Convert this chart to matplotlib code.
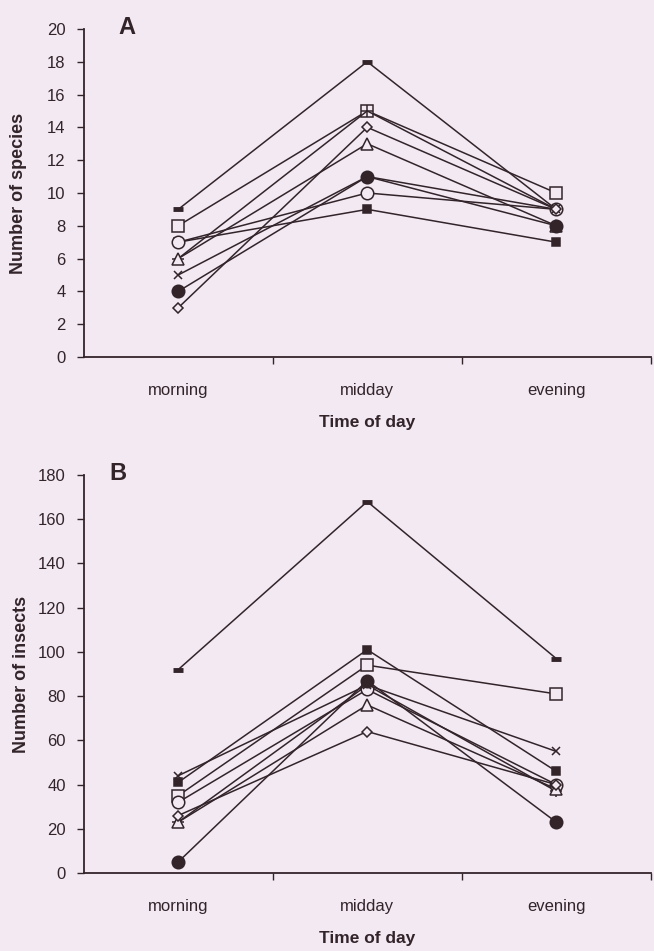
import numpy as np
import matplotlib
matplotlib.use("Agg")
import matplotlib.pyplot as plt

plt.rcParams['font.family'] = ['Liberation Sans', 'DejaVu Sans']

# categories
times = ['morning', 'midday', 'evening']

# panel A - number of species
dash_a = [9, 18, 9]
open_sq_a = [8, 15, 10]
plus_a = [6, 15, 9]
filled_sq_a = [7, 9, 7]
open_circ_a = [7, 10, 9]
tri_a = [6, 13, 8]
cross_a = [5, 11, 9]
filled_circ_a = [4, 11, 8]
diamond_a = [3, 14, 9]

# panel B - number of insects
dash_b = [92, 168, 97]
open_sq_b = [35, 94, 81]
plus_b = [23, 85, 37]
filled_sq_b = [41, 101, 46]
open_circ_b = [32, 83, 40]
tri_b = [23, 76, 38]
cross_b = [44, 85, 55]
filled_circ_b = [5, 87, 23]
diamond_b = [26, 64, 40]

bg = '#f2e9f2'
ink = '#33242a'

# marker styles (marker, size, filled)
styles = [
    ('_', 7.5, True),
    ('s', 8, False),
    ('+', 8, True),
    ('s', 6, True),
    ('o', 9, False),
    ('^', 8.5, False),
    ('x', 5.8, True),
    ('o', 9, True),
    ('D', 5.5, False),
]


def draw_panel(ax, series, ymax, ystep, ylabel, label_x):
    x = np.arange(len(times))
    for vals, (m, ms, filled) in zip(series, styles):
        mew = 3.5 if m == '_' else 1.1
        ax.plot(x, vals, color=ink, lw=1.1, marker=m, ms=ms,
                mfc=ink if filled else bg, mec=ink, mew=mew)
    ax.set_xlim(-0.5, 2.5)
    ax.set_ylim(0, ymax)
    ax.set_yticks(np.arange(0, ymax + 1, ystep))
    # ticks sit between the categories, labels at the centres
    ax.set_xticks([0.5, 1.5, 2.5])
    ax.set_xticklabels([])
    ax.set_xticks(x, minor=True)
    ax.set_xticklabels(times, minor=True, fontsize=12, color=ink)
    ax.tick_params(axis='x', which='minor', length=0, pad=19)
    ax.tick_params(axis='x', which='major', direction='out', length=5,
                   width=1, color=ink)
    ax.tick_params(axis='y', direction='out', length=5, width=1, color=ink,
                   pad=8, labelsize=12, labelcolor=ink)
    for s in ['top', 'right']:
        ax.spines[s].set_visible(False)
    for s in ['left', 'bottom']:
        ax.spines[s].set_color(ink)
        ax.spines[s].set_linewidth(1.3)
    ax.set_facecolor(bg)
    ax.set_ylabel(ylabel, fontsize=13, fontweight='bold', color=ink)
    ax.yaxis.set_label_coords(label_x, 0.5)
    ax.set_xlabel('Time of day', fontsize=12.5, fontweight='bold', color=ink, labelpad=12)


fig = plt.figure(figsize=(6.54, 9.51), dpi=100, facecolor=bg)
ax1 = fig.add_axes([0.128, 0.6246, 0.867, 0.345])
ax2 = fig.add_axes([0.128, 0.082, 0.867, 0.4185])

draw_panel(ax1, [dash_a, open_sq_a, plus_a, filled_sq_a, open_circ_a, tri_a,
                 cross_a, filled_circ_a, diamond_a],
           20, 2, 'Number of species', -0.100)
draw_panel(ax2, [dash_b, open_sq_b, plus_b, filled_sq_b, open_circ_b, tri_b,
                 cross_b, filled_circ_b, diamond_b],
           180, 20, 'Number of insects', -0.094)

fig.text(127 / 654, 1 - 27 / 951, 'A', fontsize=17, fontweight='bold',
         color=ink, ha='center', va='center')
fig.text(118 / 654, 1 - 473 / 951, 'B', fontsize=17, fontweight='bold',
         color=ink, ha='center', va='center')

fig.savefig('out.png', dpi=100, facecolor=bg)
